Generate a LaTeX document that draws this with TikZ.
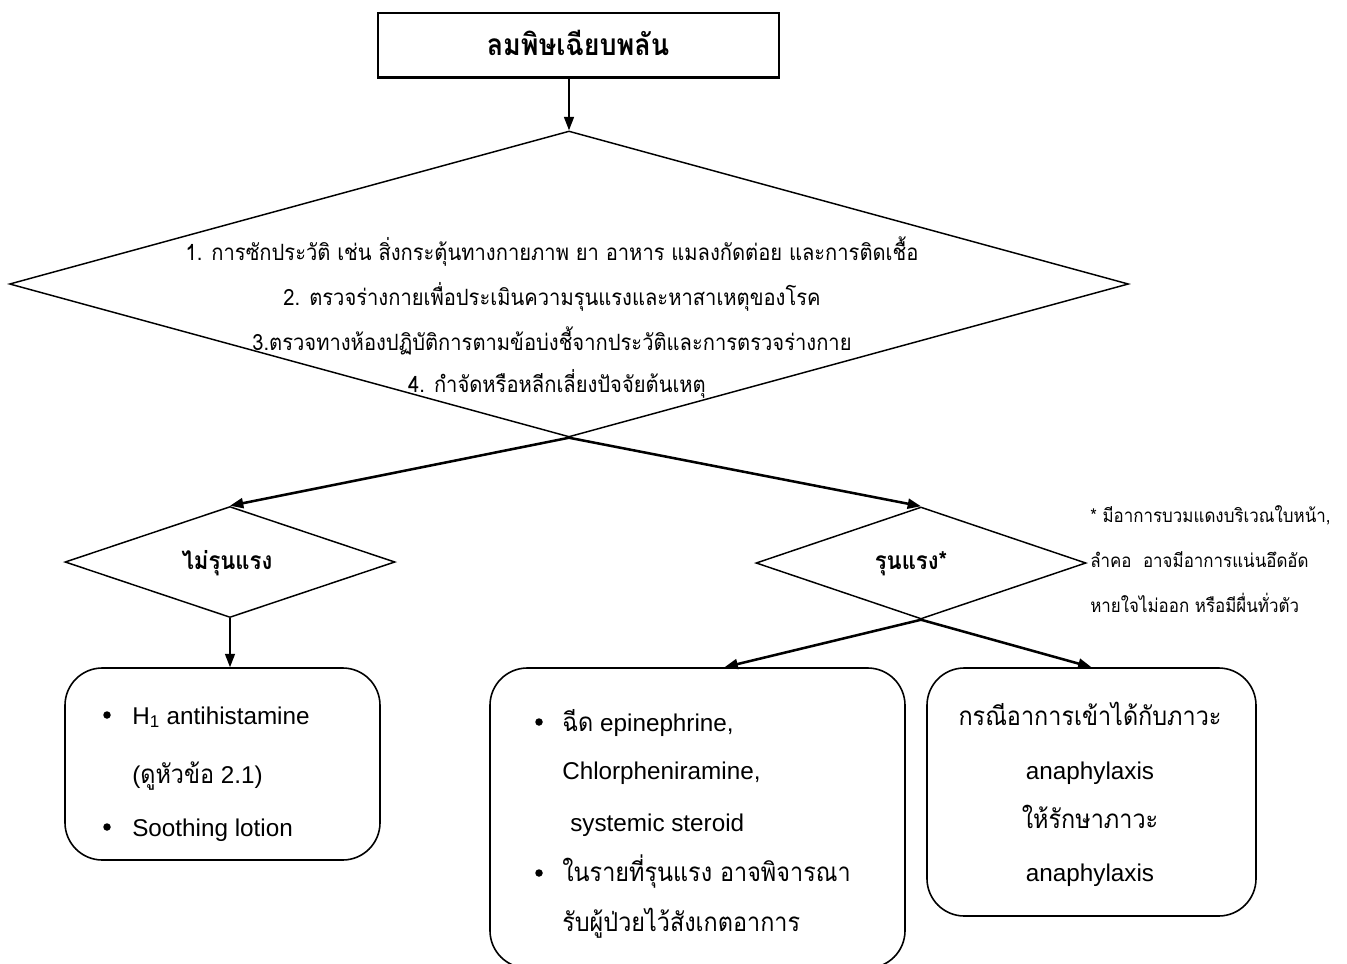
\documentclass[tikz,border=0pt]{standalone}
\usepackage{fontspec}
\setmainfont{Liberation Sans}
\newfontfamily\thf[Script=Thai,FakeStretch=0.9]{Loma}
\usetikzlibrary{arrows.meta,shapes.geometric,calc}
\def\U{0.75pt}
\newcommand\thtxt[1]{{\thf\fontsize{19.5}{19.5}\selectfont #1}}
\begin{document}
\begin{tikzpicture}[x=0.75pt,y=-0.75pt,
  frame/.style={draw, line width=1.3pt, inner sep=0},
  rbox/.style={draw, line width=1.2pt, rounded corners=28pt, inner sep=0},
  dia/.style={draw, diamond, line width=1.1pt, inner sep=0},
  ln/.style={inner sep=0, anchor=base},
  lnw/.style={inner sep=0, anchor=base west},
  big/.style={font=\thf\fontsize{16.8}{16.8}\selectfont},
  bx/.style={font=\fontsize{18.2}{18.2}\selectfont},
  bxt/.style={font=\thf\fontsize{19.5}{19.5}\selectfont},
  note/.style={font=\thf\fontsize{14.1}{14.1}\selectfont},
  dot/.style={circle, fill, inner sep=0, minimum size=7.5*\U},
  arr/.style={-{Triangle[length=10pt,width=7.5pt]}, line width=1pt},
  tarr/.style={-{Triangle[length=10pt,width=7.5pt]}, line width=1.9pt}
]
\useasboundingbox (0,0) rectangle (1347,964);

% top box
\node[frame, minimum width=401*\U, minimum height=64*\U] (t) at (578.5,45) {};
\draw[line width=2pt] (t.south west) -- (t.south east);
\node[ln, font=\thf\bfseries\fontsize{22.4}{22.4}\selectfont] (tt) at (578,55) {ลมพิษเฉียบพลัน};

% big diamond
\node[dia, minimum width=1119*\U, minimum height=306*\U] (d1) at (569,284) {};
\node[ln, big] (l1) at (552,260) {1. การซักประวัติ เช่น สิ่งกระตุ้นทางกายภาพ ยา อาหาร แมลงกัดต่อย และการติดเชื้อ};
\node[ln, big] (l2) at (552,305) {2. ตรวจร่างกายเพื่อประเมินความรุนแรงและหาสาเหตุของโรค};
\node[ln, big] (l3) at (552,350) {3.ตรวจทางห้องปฏิบัติการตามข้อบ่งชี้จากประวัติและการตรวจร่างกาย};
\node[ln, big] (l4) at (557,392) {4. กำจัดหรือหลีกเลี่ยงปัจจัยต้นเหตุ};

% small diamonds
\node[dia, minimum width=330*\U, minimum height=111*\U] (d2) at (230,562) {};
\node[ln, font=\thf\bfseries\fontsize{18.4}{18.4}\selectfont] (d2t) at (227,569) {ไม่รุนแรง};
\node[dia, minimum width=330*\U, minimum height=112*\U] (d3) at (921,563) {};
\node[ln, font=\thf\bfseries\fontsize{18.4}{18.4}\selectfont] (d3t) at (911,569) {รุนแรง*};

% note
\node[lnw, note] (n1) at (1090,522) {* มีอาการบวมแดงบริเวณใบหน้า,};
\node[lnw, note] (n2) at (1090,567) {ลำคอ~ อาจมีอาการแน่นอึดอัด};
\node[lnw, note] (n3) at (1090,612) {หายใจไม่ออก หรือมีผื่นทั่วตัว};

% boxes
\node[rbox, minimum width=315*\U, minimum height=192*\U] (b1) at (222.5,764) {};
\node[rbox, minimum width=415*\U, minimum height=300*\U] (b2) at (697.5,818) {};
\node[rbox, minimum width=329*\U, minimum height=248*\U] (b3) at (1091.5,792) {};

% left box text
\node[dot] (b1a) at (107,715) {};
\node[lnw, bx] (b1b) at (132,724) {H\textsubscript{1} antihistamine};
\node[lnw, bx] (b1c) at (132,783) {(\thtxt{ดูหัวข้อ} 2.1)};
\node[dot] (b1d) at (107,827) {};
\node[lnw, bx] (b1e) at (132,836) {Soothing lotion};

% middle box text
\node[dot] (b2a) at (539,722) {};
\node[lnw, bx] (b2b) at (562,731) {\thtxt{ฉีด} epinephrine,};
\node[lnw, bx] (b2c) at (562,779) {Chlorpheniramine,};
\node[lnw, bx] (b2d) at (570,831) {systemic steroid};
\node[dot] (b2e) at (539,873) {};
\node[lnw, bxt] (b2f) at (562,881) {ในรายที่รุนแรง อาจพิจารณา};
\node[lnw, bxt] (b2g) at (562,931) {รับผู้ป่วยไว้สังเกตอาการ};

% right box text
\node[ln, bxt] (b3a) at (1090,725) {กรณีอาการเข้าได้กับภาวะ};
\node[ln, bx] (b3b) at (1090,779) {anaphylaxis};
\node[ln, bxt] (b3c) at (1090,828) {ให้รักษาภาวะ};
\node[ln, bx] (b3d) at (1090,881) {anaphylaxis};

% connectors
\draw[arr] (d1.north |- t.south) -- (d1.north);
\draw[tarr] (d1.south) -- (d2.north);
\draw[tarr] (d1.south) -- (d3.north);
\draw[arr] (d2.south) -- (d2.south |- b1.north);
\draw[tarr] (d3.south) -- ($(b2.north)+(27,0)$);
\draw[tarr] (d3.south) -- (b3.north);
\end{tikzpicture}
\end{document}
